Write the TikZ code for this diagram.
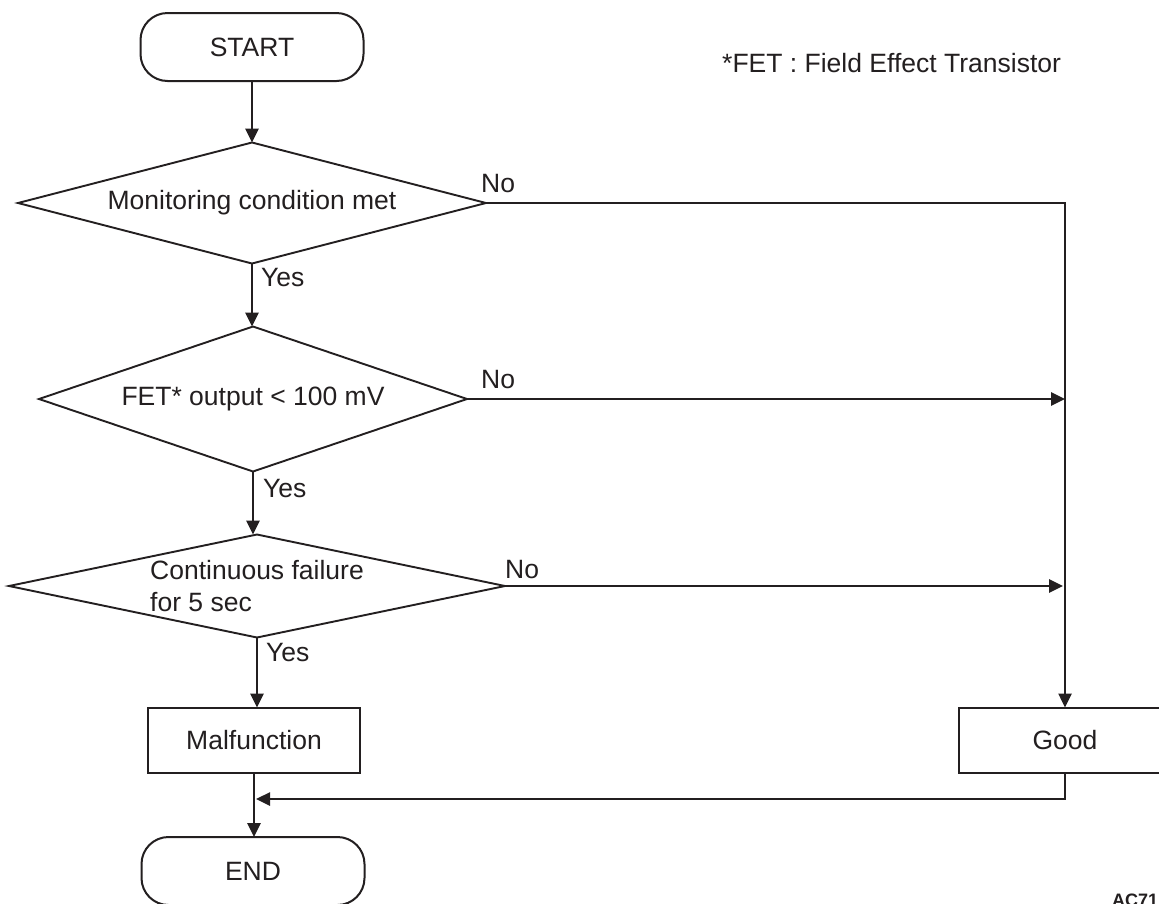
\documentclass[tikz,border=0pt]{standalone}
\usepackage{fontspec}
\setmainfont{Liberation Sans}
\usetikzlibrary{shapes.geometric,arrows.meta}
\definecolor{ink}{RGB}{35,31,32}
\begin{document}
\begin{tikzpicture}[x=1pt,y=-1pt,
  every node/.style={text=ink},
  font=\fontsize{26.5}{32}\selectfont,
  term/.style={draw=ink,line width=2pt,rounded corners=27pt,minimum width=223pt,minimum height=68pt,inner sep=0pt,outer sep=0pt},
  decision/.style={draw=ink,diamond,line width=1.9pt,inner sep=0pt,outer sep=0pt},
  proc/.style={draw=ink,rectangle,line width=2pt,minimum width=212pt,minimum height=65pt,inner sep=0pt,outer sep=0pt},
  tip/.style={-{Triangle[length=14pt,width=13pt]}},
  flow/.style={draw=ink,line width=2.9pt,tip},
  link/.style={draw=ink,line width=2.5pt},
  lbl/.style={inner sep=0pt,anchor=base west}
]
\useasboundingbox (0,0) rectangle (1159,903);
\fill[white] (0,0) rectangle (1159,903);

% steps of the check
\node[term] (start) at (252,47) {START};
\node[decision,minimum width=468pt,minimum height=121pt,aspect=3.87] (d1) at (252,203) {Monitoring condition met};
\node[decision,minimum width=428pt,minimum height=145pt,aspect=2.95] (d2) at (253,399) {FET* output < 100 mV};
\node[decision,minimum width=496pt,minimum height=103pt,aspect=4.8,align=left] (d3) at (257,586) {Continuous failure\\for 5 sec};
\node[proc] (mal) at (254,740) {Malfunction};
\node[proc] (good) at (1065,740) {Good};
\node[term] (end) at (253,871) {END};

% footnote and drawing number
\node[lbl] (note) at (722,72) {*FET : Field Effect Transistor};
\node[lbl,font=\fontsize{18}{20}\selectfont\bfseries] (code) at (1112,906) {AC71};

% branch labels
\node[lbl] (no1) at (481,192) {No};
\node[lbl] (no2) at (481,388) {No};
\node[lbl] (no3) at (505,578) {No};
\node[lbl] (yes1) at (261,286) {Yes};
\node[lbl] (yes2) at (263,497) {Yes};
\node[lbl] (yes3) at (266,661) {Yes};

% connectors
\coordinate (j2) at (good.north |- d2.east);
\coordinate (j3) at ([xshift=-2pt]good.north |- d3.east);
\coordinate (merge) at ([xshift=2pt]mal.south |- 0,799);

\draw[flow] (start.south) -- (start.south |- d1.north);
\draw[flow] (d1.south) -- (d1.south |- d2.north);
\draw[flow] (d2.south) -- (d2.south |- d3.north);
\draw[flow] (d3.south) -- (d3.south |- mal.north);
\draw[flow] (mal.south) -- (mal.south |- end.north);

\draw[link,tip] (d1.east) -| (good.north);
\draw[flow] (d2.east) -- (j2);
\draw[flow] (d3.east) -- (j3);
\draw[link,tip] (good.south) |- (merge);
\end{tikzpicture}
\end{document}
